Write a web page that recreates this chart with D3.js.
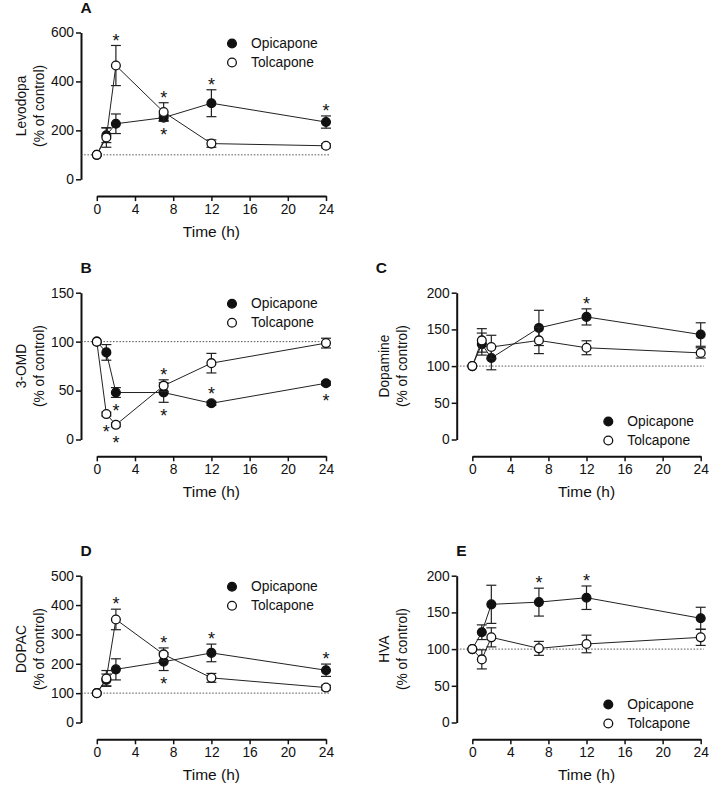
<!DOCTYPE html>
<html><head><meta charset="utf-8">
<script src="https://cdn.jsdelivr.net/npm/d3@7"></script>
<style>
body{margin:0;background:#fff}
svg{display:block;font-family:"Liberation Sans",Arial,sans-serif}
</style>
</head><body>
<svg id="c" width="709" height="785"></svg>
<script>
// ---------------- DATA ----------------
const times = [0, 1, 2, 7, 12, 24];
const xTicks = [0, 4, 8, 12, 16, 20, 24];
const seriesNames = ["Opicapone", "Tolcapone"];
const xTitle = "Time (h)";
const yUnit = "(% of control)";

// Panel A – Levodopa
const opicA_mean = [100, 180, 227, 252, 311, 234];
const opicA_sem  = [0, 30, 40, 12, 55, 25];
const opicA_sig  = ["", "", "", "below", "above", "above"];
const tolcA_mean = [100, 171, 465, 275, 146, 137];
const tolcA_sem  = [0, 40, 82, 38, 15, 8];
const tolcA_sig  = ["", "", "above", "above", "", ""];
const yTicksA = [0, 200, 400, 600];

// Panel B – 3-OMD
const opicB_mean = [100, 89, 48, 48, 37, 57.5];
const opicB_sem  = [0, 8, 5, 10, 2, 2];
const opicB_sig  = ["", "", "below", "below", "above", "below"];
const tolcB_mean = [100, 26, 15, 55, 78, 98.5];
const tolcB_sem  = [0, 2, 2, 6, 10, 5];
const tolcB_sig  = ["", "below", "below", "above", "", ""];
const yTicksB = [0, 50, 100, 150];

// Panel C – Dopamine
const opicC_mean = [100, 130, 111, 152, 167, 143];
const opicC_sem  = [0, 15, 16, 24, 11, 16];
const opicC_sig  = ["", "", "", "", "above", ""];
const tolcC_mean = [100, 135, 126, 135, 125, 118];
const tolcC_sem  = [0, 16, 16, 18, 9.5, 7];
const tolcC_sig  = ["", "", "", "", "", ""];
const yTicksC = [0, 50, 100, 150, 200];

// Panel D – DOPAC
const opicD_mean = [100, 145, 181, 207, 237, 178];
const opicD_sem  = [0, 20, 36, 30, 30, 21];
const opicD_sig  = ["", "", "", "below", "above", "above"];
const tolcD_mean = [100, 150, 351, 232, 152, 119];
const tolcD_sem  = [0, 27, 35, 22, 15, 8];
const tolcD_sig  = ["", "", "above", "above", "", ""];
const yTicksD = [0, 100, 200, 300, 400, 500];

// Panel E – HVA
const opicE_mean = [100, 123, 161, 164, 170, 142];
const opicE_sem  = [0, 10, 26, 19, 16, 15];
const opicE_sig  = ["", "", "", "above", "above", ""];
const tolcE_mean = [100, 86, 116, 101, 107, 116];
const tolcE_sem  = [0, 13, 13, 9.5, 12, 11];
const tolcE_sig  = ["", "", "", "", "", ""];
const yTicksE = [0, 50, 100, 150, 200];

// ---------------- LAYOUT ----------------
const colAxisX = [81, 456.7];
const colXStart = [96.8, 472.3];
const colXEnd = [326, 700.7];
const colLabelOff = [[-60, -41.5], [-72, -54]];
const rowTop = [32.5, 292.7, 575.7];
const plotH = 146.8;
const xAxisGap = 16.8;

const panels = [
  {id:"A", name:"Levodopa", col:0, row:0, ticks:yTicksA, legend:"top", titleDx:-0.5,
   s:[[opicA_mean,opicA_sem,opicA_sig],[tolcA_mean,tolcA_sem,tolcA_sig]]},
  {id:"B", name:"3-OMD", col:0, row:1, ticks:yTicksB, legend:"top", titleDx:-0.5,
   s:[[opicB_mean,opicB_sem,opicB_sig],[tolcB_mean,tolcB_sem,tolcB_sig]]},
  {id:"C", name:"Dopamine", col:1, row:1, ticks:yTicksC, legend:"bottom", titleDx:-81,
   s:[[opicC_mean,opicC_sem,opicC_sig],[tolcC_mean,tolcC_sem,tolcC_sig]]},
  {id:"D", name:"DOPAC", col:0, row:2, ticks:yTicksD, legend:"top", titleDx:-0.5,
   s:[[opicD_mean,opicD_sem,opicD_sig],[tolcD_mean,tolcD_sem,tolcD_sig]]},
  {id:"E", name:"HVA", col:1, row:2, ticks:yTicksE, legend:"bottom", titleDx:-0.5,
   s:[[opicE_mean,opicE_sem,opicE_sig],[tolcE_mean,tolcE_sem,tolcE_sig]]}
];

const svg = d3.select("#c");
const FS = 13.8;
const R = 4.4;
const fills = ["#111", "#fff"];

panels.forEach(p => {
  const g = svg.append("g");
  const ax = colAxisX[p.col];
  const top = rowTop[p.row];
  const bottom = top + plotH;
  const yMax = p.ticks[p.ticks.length - 1];
  const x = d3.scaleLinear().domain([0, 24]).range([colXStart[p.col], colXEnd[p.col]]);
  const y = d3.scaleLinear().domain([0, yMax]).range([bottom, top]);

  // title letter
  g.append("text").attr("x", ax + p.titleDx).attr("y", top - 25 + 5.3)
    .attr("font-size", 15.5).attr("font-weight", "bold").attr("fill", "#111").text(p.id);

  // y axis
  const ya = g.append("g").attr("transform", `translate(${ax},0)`)
    .call(d3.axisLeft(y).tickValues(p.ticks).tickSize(5).tickSizeOuter(0).tickPadding(2));
  ya.select(".domain").attr("stroke", "#111").attr("stroke-width", 2);
  ya.selectAll(".tick line").attr("stroke", "#111").attr("stroke-width", 1.5);
  ya.selectAll(".tick text").attr("font-size", FS).attr("fill", "#111")
    .attr("font-family", '"Liberation Sans",Arial,sans-serif');

  // x axis
  const xa = g.append("g").attr("transform", `translate(0,${bottom + xAxisGap})`)
    .call(d3.axisBottom(x).tickValues(xTicks).tickSize(5).tickSizeOuter(0).tickPadding(3));
  xa.select(".domain").attr("stroke", "#111").attr("stroke-width", 2);
  xa.selectAll(".tick line").attr("stroke", "#111").attr("stroke-width", 1.5);
  xa.selectAll(".tick text").attr("font-size", FS).attr("fill", "#111")
    .attr("font-family", '"Liberation Sans",Arial,sans-serif');

  // x title
  g.append("text").attr("x", (x(0) + x(24)) / 2).attr("y", bottom + xAxisGap + 41)
    .attr("text-anchor", "middle").attr("font-size", 15.5).attr("fill", "#111").text(xTitle);

  // y titles
  const ym = (top + bottom) / 2;
  [p.name, yUnit].forEach((t, i) => {
    g.append("text").attr("transform", `translate(${ax + colLabelOff[p.col][i]},${ym}) rotate(-90)`)
      .attr("text-anchor", "middle").attr("dominant-baseline", "central")
      .attr("font-size", FS).attr("fill", "#111").text(t);
  });

  // dotted control line
  g.append("line").attr("x1", ax).attr("x2", x(24) + 3)
    .attr("y1", y(100)).attr("y2", y(100))
    .attr("stroke", "#333").attr("stroke-width", 0.8).attr("stroke-dasharray", "1.6,1.6");

  // series
  p.s.forEach((ser, si) => {
    const [mean, sem, sig] = ser;
    const pts = times.map((t, i) => ({t, m: mean[i], e: sem[i], s: sig[i]}));
    const sg = g.append("g");
    sg.append("path").datum(pts)
      .attr("d", d3.line().x(d => x(d.t)).y(d => y(d.m)))
      .attr("fill", "none").attr("stroke", "#222").attr("stroke-width", 1);
    pts.filter(d => d.e > 0).forEach(d => {
      const cx = x(d.t), y1 = y(d.m + d.e), y2 = y(d.m - d.e);
      sg.append("line").attr("x1", cx).attr("x2", cx).attr("y1", y1).attr("y2", y2)
        .attr("stroke", "#222").attr("stroke-width", 1.2);
      [y1, y2].forEach(yy => sg.append("line").attr("x1", cx - 5).attr("x2", cx + 5)
        .attr("y1", yy).attr("y2", yy).attr("stroke", "#222").attr("stroke-width", 1.2));
    });
    sg.selectAll("circle").data(pts).join("circle")
      .attr("cx", d => x(d.t)).attr("cy", d => y(d.m)).attr("r", R)
      .attr("fill", fills[si]).attr("stroke", "#111").attr("stroke-width", 1.3);
    // asterisks
    pts.filter(d => d.s).forEach(d => {
      const cx = x(d.t);
      let cy;
      if (d.s === "above") cy = Math.min(y(d.m + d.e), y(d.m) - R) - 9;
      else cy = Math.max(y(d.m - d.e), y(d.m) + R) + 9;
      g.append("text").attr("x", cx).attr("y", cy + 10.3).attr("text-anchor", "middle")
        .attr("font-size", 18).attr("fill", "#111").text("*");
    });
  });

  // legend
  const lx = p.col === 0 ? 232 : 608.3;
  const ly0 = p.legend === "top" ? top + 11 : bottom - 18;
  seriesNames.forEach((n, i) => {
    const ly = ly0 + i * 19;
    g.append("circle").attr("cx", lx).attr("cy", ly).attr("r", R)
      .attr("fill", fills[i]).attr("stroke", "#111").attr("stroke-width", 1.3);
    g.append("text").attr("x", lx + 19).attr("y", ly).attr("dominant-baseline", "central")
      .attr("font-size", FS).attr("fill", "#111").text(n);
  });
});
</script>
</body></html>
